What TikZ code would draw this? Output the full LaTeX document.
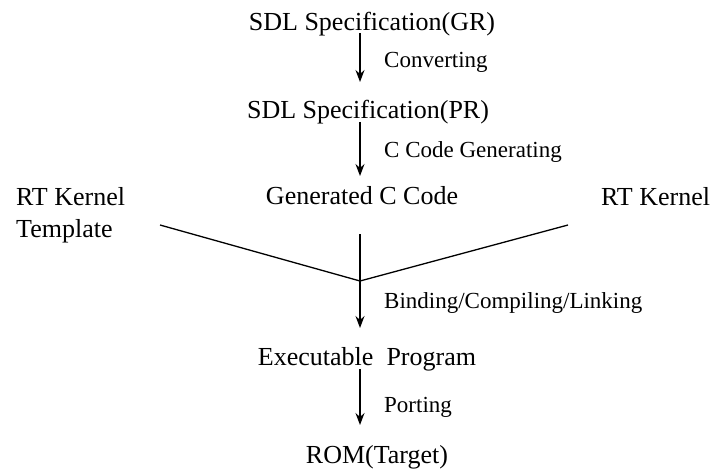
\documentclass[tikz,border=0pt]{standalone}
\usepackage{fontspec}
\setmainfont{Liberation Serif}
\usetikzlibrary{arrows.meta}
\begin{document}
\begin{tikzpicture}[x=1pt,y=-1pt,
  stage/.style={inner sep=0pt,anchor=base,font=\fontsize{26}{30}\selectfont},
  side/.style={inner sep=0pt,anchor=base west,font=\fontsize{26}{30}\selectfont},
  act/.style={inner sep=0pt,anchor=base west,font=\fontsize{23}{27}\selectfont},
  flow/.style={line width=1.3pt,-{Stealth[length=12pt,width=9pt,inset=4pt]}},
  link/.style={line width=1.3pt}]
  \useasboundingbox (0,0) rectangle (714,468);

  % stages of the tool chain
  \node[stage] (gr)   at (372,31)  {SDL Specification(GR)};
  \node[stage] (pr)   at (368,118) {SDL Specification(PR)};
  \node[stage] (gen)  at (362,204) {Generated C Code};
  \node[side]  (tmpl) at (16,205)  {RT Kernel};
  \node[side]  (tmpl2) at (16,237) {Template};
  \node[side]  (rtk)  at (601,205) {RT Kernel};
  \node[stage] (exe)  at (367,365) {Executable\ \ Program};
  \node[stage] (rom)  at (377,463) {ROM(Target)};

  % arrow end points
  \coordinate (a1) at (360,33);   \coordinate (b1) at (360,82);
  \coordinate (a2) at (360,122);  \coordinate (b2) at (360,176);
  \coordinate (a3) at (360,234);  \coordinate (b3) at (360,328);
  \coordinate (a4) at (360,369);  \coordinate (b4) at (360,425);
  \coordinate (join) at (360,281);
  \coordinate (tl) at (160,225);
  \coordinate (tr) at (568,225);

  \draw[flow] (a1) -- (b1);
  \draw[flow] (a2) -- (b2);
  \draw[flow] (a3) -- (b3);
  \draw[flow] (a4) -- (b4);
  \draw[link] (tl) -- (join) -- (tr);

  % step labels
  \node[act] (l1) at (384,68)  {Converting};
  \node[act] (l2) at (384,157) {C Code Generating};
  \node[act] (l3) at (384,308) {Binding/Compiling/Linking};
  \node[act] (l4) at (384,412) {Porting};
\end{tikzpicture}
\end{document}
